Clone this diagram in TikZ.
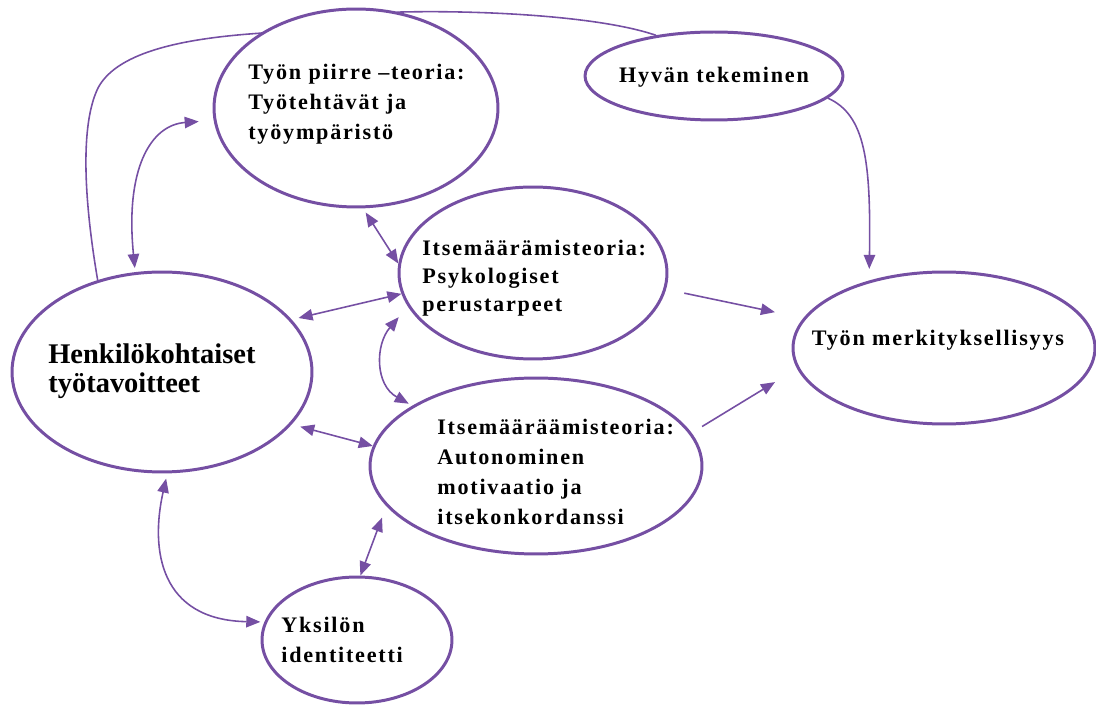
\documentclass[tikz,border=0pt]{standalone}
\usepackage{fontspec}
\setmainfont{Liberation Serif}
\newfontfamily\spc[LetterSpace=8]{Liberation Serif}
\usetikzlibrary{arrows.meta,shapes.geometric,backgrounds}
\definecolor{lila}{RGB}{117,79,163}

\begin{document}
\begin{tikzpicture}[x=0.02cm,y=-0.02cm,
  ell/.style={draw=lila, line width=1.7pt, ellipse, fill=white, inner sep=0pt},
  txt/.style={font=\spc\bfseries\fontsize{12.6}{17}\selectfont, align=left, inner sep=0pt, anchor=west},
  con/.style={draw=lila, line width=0.9pt},
  arr/.style={con, -{Triangle[length=8pt,width=6.5pt]}},
  tip/.style={con, {Triangle[length=8pt,width=6.5pt]}-{Triangle[length=8pt,width=6.5pt]}}]
\useasboundingbox (0,0) rectangle (1096,709);

% ellipses
\node[ell, minimum width=5.68cm, minimum height=3.96cm] (piirre) at (356,108) {};
\node[ell, minimum width=5.16cm, minimum height=1.76cm] (hyvan) at (714,76) {};
\node[ell, minimum width=5.36cm, minimum height=3.44cm] (psyk) at (533,273) {};
\node[ell, minimum width=6.64cm, minimum height=3.52cm] (auton) at (536,466) {};
\node[ell, minimum width=6.00cm, minimum height=4.00cm] (henk) at (162,372) {};
\node[ell, minimum width=3.80cm, minimum height=2.52cm] (yks) at (357,640) {};
\node[ell, minimum width=6.04cm, minimum height=3.04cm] (merk) at (944,348) {};

% texts
\node[txt] (tpiirre) at (248,104) {Työn piirre –teoria:\\Työtehtävät ja\\työympäristö};
\node[txt, anchor=center] (thyvan) at (714,77) {Hyvän tekeminen};
\node[txt, font=\spc\bfseries\fontsize{12.6}{16}\selectfont] (tpsyk) at (422,278) {Itsemäärämisteoria:\\Psykologiset\\perustarpeet};
\node[txt] (tauton) at (437,472) {Itsemääräämisteoria:\\Autonominen\\motivaatio ja\\itsekonkordanssi};
\node[txt, font=\bfseries\fontsize{16.2}{16.8}\selectfont] (thenk) at (48,371) {Henkilökohtaiset\\työtavoitteet};
\node[txt] (tyks) at (281,640) {Yksilön\\identiteetti};
\node[txt, anchor=center] (tmerk) at (938,340) {Työn merkityksellisyys};

% line behind the top ellipse
\begin{scope}[on background layer]
\draw[con] (henk.125) .. controls (84,200) and (80,125) .. (98,88)
  .. controls (118,50) and (190,38) .. (piirre.142) -- (piirre.66)
  .. controls (480,10) and (600,16) .. (hyvan.145);
\end{scope}

% arrows
\draw[arr, shorten >=6.6pt] (hyvan.-11) .. controls (865,115) and (871,160) .. (merk.138);
\draw[tip, shorten <=8.5pt, shorten >=2.3pt] (piirre.185) .. controls (150,125) and (125,170) .. (henk.105);
\draw[tip, shorten <=2.8pt] (piirre.-86) -- (psyk.176);
\draw[tip, shorten <=4pt] (henk.22) -- (psyk.189);
\draw[tip, shorten <=8pt, shorten >=2.3pt] (psyk.195) .. controls (375,345) and (375,385) .. (auton.154);
\draw[tip, shorten <=5pt] (henk.-22) -- (auton.173);
\draw[arr, shorten <=10.6pt, shorten >=16.5pt] (psyk.-7) -- (merk.168);
\draw[arr, shorten <=7pt, shorten >=14.7pt] (auton.12) -- (merk.188);
\draw[tip, shorten <=7pt] (auton.195) -- (yks.87);
\draw[tip, shorten <=3pt, shorten >=2.3pt] (henk.-87) .. controls (150,550) and (160,620) .. (yks.169);
\end{tikzpicture}
\end{document}
